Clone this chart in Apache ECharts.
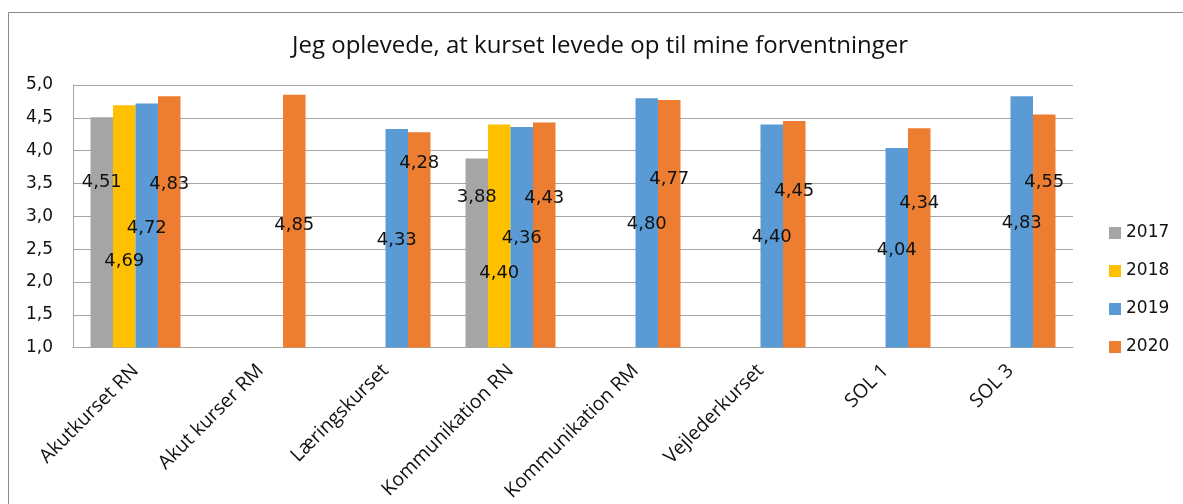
<!DOCTYPE html>
<html>
<head>
<meta charset="utf-8">
<script src="https://cdn.jsdelivr.net/npm/echarts@6/dist/echarts.min.js"></script>
<style>
  html, body { margin: 0; padding: 0; background: #fff; }
  #chart { width: 1183px; height: 504px; }
</style>
</head>
<body>
<div id="chart"></div>
<script>
// data
var categories = ['Akutkurset RN', 'Akut kurser RM', 'Læringskurset', 'Kommunikation RN',
    'Kommunikation RM', 'Vejlederkurset', 'SOL 1', 'SOL 3'];
var years = ['2017', '2018', '2019', '2020'];
var v2017 = [4.51, null, null, 3.88, null, null, null, null];
var v2018 = [4.69, null, null, 4.40, null, null, null, null];
var v2019 = [4.72, null, 4.33, 4.36, 4.80, 4.40, 4.04, 4.83];
var v2020 = [4.83, 4.85, 4.28, 4.43, 4.77, 4.45, 4.34, 4.55];
var yTicks = [1.0, 5.0, 0.5]; // min, max, interval

// where each value label sits inside its bar (in axis units), as in the original
var labelAt2017 = [3.51, null, null, 3.29, null, null, null, null];
var labelAt2018 = [2.31, null, null, 2.13, null, null, null, null];
var labelAt2019 = [2.82, null, 2.64, 2.66, 2.88, 2.68, 2.48, 2.89];
var labelAt2020 = [3.49, 2.87, 3.81, 3.27, 3.56, 3.38, 3.19, 3.52];

var colors = ['#A5A5A5', '#FFC000', '#5B9BD5', '#ED7D31'];
var numFont = 'DejaVu Sans';
var txtFont = 'Open Sans';

function komma(v) {
    return v.toFixed(2).replace('.', ',');
}

// bygger data med label placeret inde i søjlen
function makeData(values, labelAt) {
    return values.map(function (v, i) {
        if (v == null) return null;
        var pct = (v - labelAt[i]) / (v - yTicks[0]) * 100;
        return {
            value: v,
            label: { position: ['50%', pct + '%'] }
        };
    });
}

var chart = echarts.init(document.getElementById('chart'));

var allVals = [v2017, v2018, v2019, v2020];
var allLabs = [labelAt2017, labelAt2018, labelAt2019, labelAt2020];

var option = {
    animation: false,
    title: {
        text: 'Jeg oplevede, at kurset levede op til mine forventninger',
        left: 287,
        top: 29,
        textStyle: { fontFamily: txtFont, fontSize: 24, fontWeight: 'normal', color: '#111' }
    },
    graphic: [{
        type: 'rect',
        shape: { x: 8.5, y: 12.5, width: 1300, height: 700 },
        style: { fill: 'none', stroke: '#898989', lineWidth: 1 },
        silent: true
    }],
    legend: {
        data: years,
        orient: 'vertical',
        left: 1109,
        top: 224,
        padding: 0,
        itemWidth: 12,
        itemHeight: 12,
        itemGap: 20,
        icon: 'rect',
        textStyle: { fontFamily: numFont, fontSize: 17, color: '#111', lineHeight: 18 }
    },
    grid: { left: 73, right: 110, top: 85, bottom: 156, containLabel: false },
    xAxis: {
        type: 'category',
        data: categories,
        axisLine: { lineStyle: { color: '#a6a6a6' } },
        axisTick: { show: false },
        axisLabel: {
            interval: 0,
            rotate: 45,
            margin: 20,
            fontFamily: txtFont,
            fontSize: 19.5,
            color: '#111',
            padding: [28, 0, 0, 0]
        }
    },
    yAxis: {
        type: 'value',
        min: yTicks[0],
        max: yTicks[1],
        interval: yTicks[2],
        axisLine: { show: true, lineStyle: { color: '#a6a6a6' } },
        axisTick: { show: false },
        splitLine: { lineStyle: { color: '#a6a6a6' } },
        axisLabel: {
            margin: 20,
            fontFamily: numFont,
            fontSize: 17,
            color: '#111',
            formatter: function (v) { return v.toFixed(1).replace('.', ','); }
        }
    },
    series: years.map(function (y, k) {
        return {
            name: y,
            type: 'bar',
            barWidth: '18%',
            barGap: '0%',
            barCategoryGap: '28%',
            itemStyle: { color: colors[k] },
            label: {
                show: true,
                align: 'center',
                verticalAlign: 'middle',
                fontFamily: numFont,
                fontSize: 18,
                color: '#111',
                formatter: function (p) { return komma(p.value); }
            },
            data: makeData(allVals[k], allLabs[k])
        };
    })
};

chart.setOption(option);
</script>
</body>
</html>
